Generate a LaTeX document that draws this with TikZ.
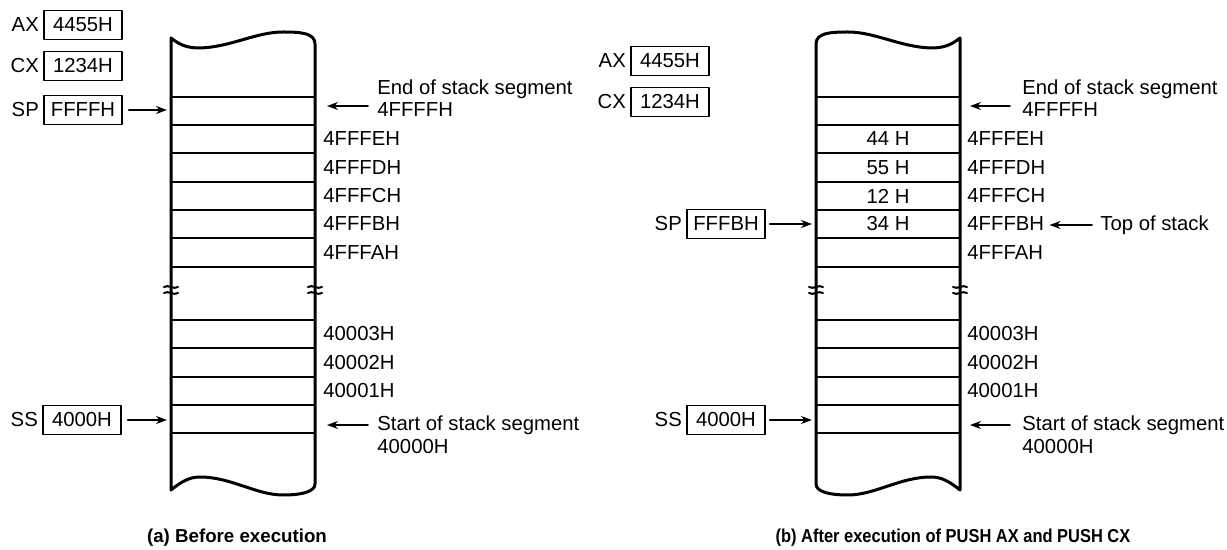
\documentclass[tikz,border=0pt]{standalone}
\usepackage{fontspec}
\setmainfont{Liberation Sans}
\usetikzlibrary{arrows.meta,positioning}
\tikzset{
  regbox/.style={draw,line width=.8pt,minimum width=39pt,minimum height=14.5pt,inner sep=0pt},
  txt/.style={inner sep=0pt},
  ptr/.style={-{Stealth[length=5.5pt,width=4pt]},line width=.85pt},
}
% Obrys stosu (lokalnie: x od 0 do 144, falista góra i dół, przerwa w środku).
\newcommand{\ramkastosu}{%
  \draw[line width=1.5pt]
   (0,38) .. controls (10,46) and (18,48) .. (29,48)
   .. controls (60,47) and (85,32) .. (112,32)
   .. controls (130,32) and (144,33) .. (144,44) -- (144,484)
   .. controls (144,492) and (130,495) .. (112,495)
   .. controls (85,495) and (60,477) .. (29,477)
   .. controls (18,477) and (10,482) .. (0,490) -- cycle;
  \foreach \y in {97,125,153,182,210,238,267,320,348,377,405,433}
   \draw[line width=.75pt] (0,\y) -- (144,\y);
  \foreach \x in {0,144} {
   \draw[line width=1pt] (\x-7,287) .. controls (\x-3,284) and (\x+3,290) .. (\x+7,287);
   \draw[line width=1pt] (\x-7,293) .. controls (\x-3,290) and (\x+3,296) .. (\x+7,293);
  }%
}

\begin{document}
\begin{tikzpicture}[x=.5pt,y=-.5pt,line cap=round,line join=round,
  font=\fontsize{10.15}{11}\selectfont]
\useasboundingbox (0,0) rectangle (1227,550);
% (a) Przed wykonaniem.
\begin{scope}[shift={(171,0)}]
 \ramkastosu
\end{scope}
\coordinate (lsL) at (171,0);
\coordinate (lsR) at (315,0);
\node[regbox] (axa) at (83,25) {4455H};
\node[txt,left=2pt of axa] (axta) {AX};
\node[regbox] (cxa) at (83,66) {1234H};
\node[txt,left=2pt of cxa] (cxta) {CX};
\node[regbox] (spa) at (83,110) {FFFFH};
\node[txt,left=2pt of spa] (spta) {SP};
\node[regbox] (ssa) at (82,420) {4000H};
\node[txt,left=2pt of ssa] (ssta) {SS};
\draw[ptr,shorten <=3pt,shorten >=2pt] (spa.east) -- (spa.east -| lsL);
\draw[ptr,shorten <=3pt,shorten >=2pt] (ssa.east) -- (ssa.east -| lsL);
\foreach \y/\t/\n in {139/4FFFEH/e,167.5/4FFFDH/d,196/4FFFCH/c,224/4FFFBH/b,252.5/4FFFAH/a,
  334/40003H/3,362.5/40002H/2,391/40001H/1}
 \node[txt,anchor=west] (adra\n) at (323,\y) {\t};
\node[txt,anchor=west] (enda) at (377,89) {End of stack segment};
\node[txt,anchor=west] (ffa) at (377,110) {4FFFFH};
\draw[ptr,shorten <=4.5pt,shorten >=6pt] ([yshift=2pt]ffa.west) -- ([yshift=2pt]ffa.west -| lsR);
\node[txt,anchor=west] (sta) at (377,425) {Start of stack segment};
\node[txt,anchor=west] (zza) at (377,447) {40000H};
\draw[ptr,shorten <=4.5pt,shorten >=6pt] (sta.west) -- (sta.west -| lsR);
\node[font=\fontsize{9.35}{11}\selectfont\bfseries] (capa) at (237,538) {(a) Before execution};
% (b) Po wykonaniu PUSH AX i PUSH CX.
\begin{scope}[shift={(960,0)},xscale=-1]
 \ramkastosu
\end{scope}
\coordinate (lsLb) at (816,0);
\coordinate (lsRb) at (960,0);
\node[regbox] (axb) at (670,61) {4455H};
\node[txt,left=2pt of axb] (axtb) {AX};
\node[regbox] (cxb) at (670,102) {1234H};
\node[txt,left=2pt of cxb] (cxtb) {CX};
\node[regbox] (spb) at (726,224) {FFFBH};
\node[txt,left=2pt of spb] (sptb) {SP};
\node[regbox] (ssb) at (726,420) {4000H};
\node[txt,left=2pt of ssb] (sstb) {SS};
\draw[ptr,shorten <=2pt,shorten >=2pt] (spb.east) -- (spb.east -| lsLb);
\draw[ptr,shorten <=2pt,shorten >=2pt] (ssb.east) -- (ssb.east -| lsLb);
\foreach \y/\t/\n in {139/44 H/e,167.5/55 H/d,196/12 H/c,224/34 H/b}
 \node[txt] (val\n) at (888,\y) {\t};
\foreach \y/\t/\n in {139/4FFFEH/e,167.5/4FFFDH/d,196/4FFFCH/c,224/4FFFBH/b,252.5/4FFFAH/a,
  334/40003H/3,362.5/40002H/2,391/40001H/1}
 \node[txt,anchor=west] (adrb\n) at (967,\y) {\t};
\node[txt,anchor=west] (endb) at (1022,89) {End of stack segment};
\node[txt,anchor=west] (ffb) at (1022,110) {4FFFFH};
\draw[ptr,shorten <=6pt,shorten >=5pt] ([yshift=2pt]ffb.west) -- ([yshift=2pt]ffb.west -| lsRb);
\node[txt,anchor=west] (tos) at (1100,225) {Top of stack};
\draw[ptr,shorten <=4pt,shorten >=2.5pt] (tos.west) -- (tos.west -| adrbb.east);
\node[txt,anchor=west] (stb) at (1022,425) {Start of stack segment};
\node[txt,anchor=west] (zzb) at (1022,447) {40000H};
\draw[ptr,shorten <=6pt,shorten >=5pt] (stb.west) -- (stb.west -| lsRb);
\node[font=\fontsize{9.35}{11}\selectfont\bfseries] (capb) at (953,538)
 {\scalebox{.88}[1]{(b) After execution of PUSH AX and PUSH CX}};
\end{tikzpicture}
\end{document}
